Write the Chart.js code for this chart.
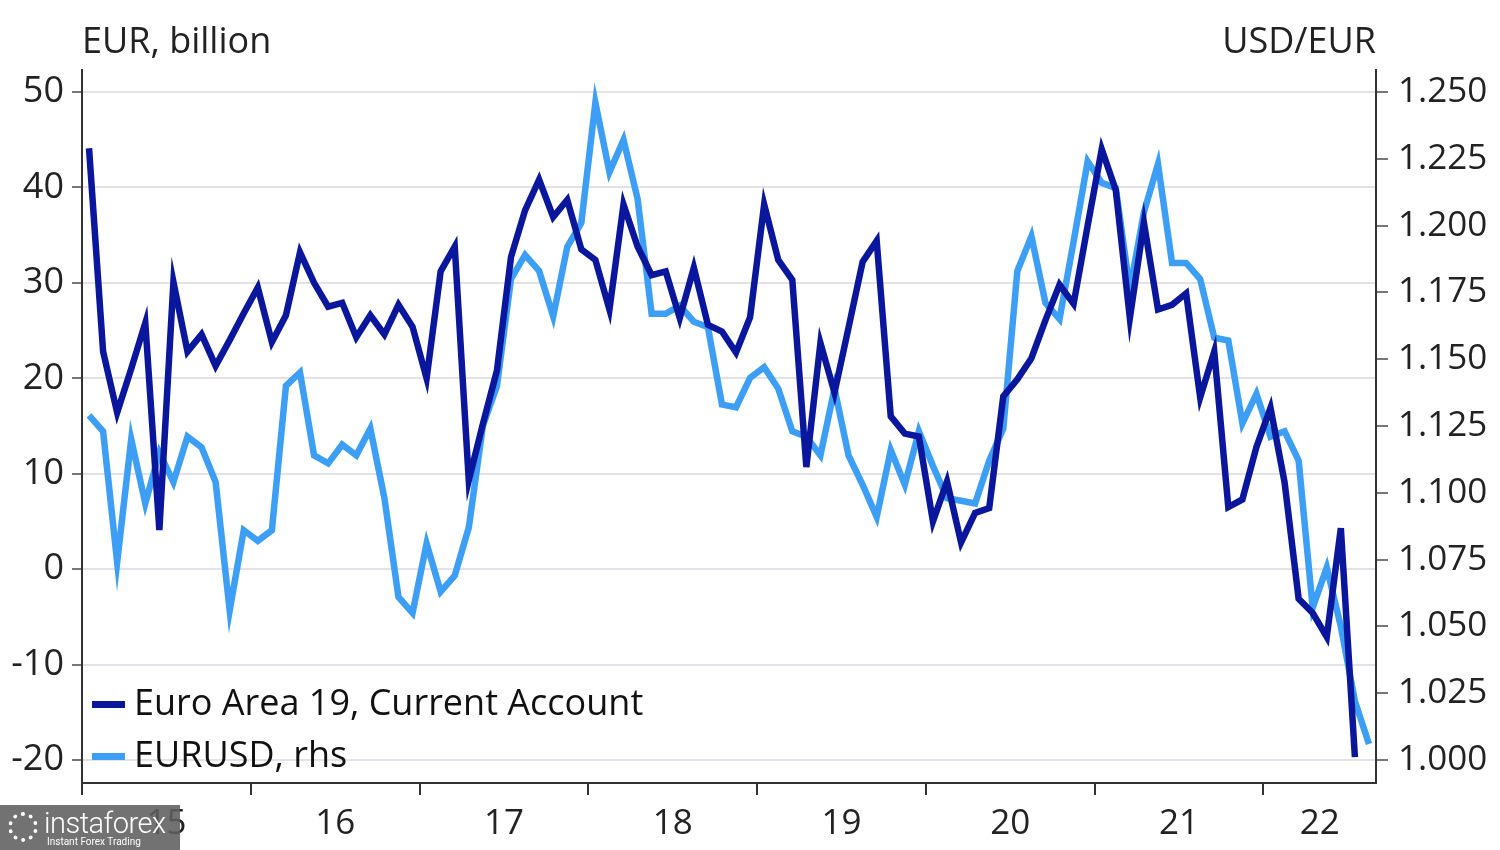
<!DOCTYPE html>
<html>
<head>
<meta charset="utf-8">
<script src="https://cdn.jsdelivr.net/npm/chart.js@4.4.1/dist/chart.umd.min.js"></script>
<style>
  body { margin: 0; background: #fff; }
  #wrap { position: relative; width: 1500px; height: 850px; }
  #logo {
    position: absolute; left: 0; top: 805px; width: 180px; height: 45px;
    background: rgba(95, 95, 95, 0.88); color: #fff; font-family: 'Roboto', sans-serif;
  }
  #logo .big { position: absolute; left: 44px; top: 1px; font-size: 29px; font-weight: 300; letter-spacing: -0.5px; }
  #logo .small { position: absolute; left: 47px; top: 31px; font-size: 10px; }
  #logo .gear { position: absolute; left: 8px; top: 7px; width: 30px; height: 30px; border: 4px dotted #fff; border-radius: 50%; box-sizing: border-box; }
</style>
</head>
<body>
<div id="wrap">
  <canvas id="graphs" width="1500" height="850"></canvas>
  <div id="logo"><div class="gear"></div><span class="big">instaforex</span><span class="small">Instant Forex Trading</span></div>
</div>
<script>
// années affichées sous l'axe
const yearLabels = ['15', '16', '17', '18', '19', '20', '21', '22'];

// compte courant zone euro, mensuel depuis janv. 2015 (EUR mrd)
const currentAccount = [
  44.1, 22.8, 16.4, 21.0, 25.8, 4.1, 30.1, 22.8, 24.6, 21.3, 24.0, 26.8,
  29.5, 23.8, 26.6, 33.2, 30.0, 27.5, 27.9, 24.3, 26.6, 24.6, 27.7, 25.4,
  20.0, 31.2, 33.8, 9.3, 15.2, 20.8, 32.7, 37.6, 40.8, 36.9, 38.7, 33.5,
  32.4, 27.2, 38.2, 33.8, 30.8, 31.2, 26.3, 31.6, 25.6, 24.9, 22.7, 26.4,
  38.2, 32.4, 30.3, 10.7, 23.7, 18.5, 25.3, 32.2, 34.4, 16.0, 14.2, 13.9,
  5.0, 9.2, 2.8, 5.9, 6.4, 18.1, 19.9, 22.1, 26.1, 29.8, 27.8, 36.0,
  44.0, 39.7, 26.3, 36.3, 27.2, 27.7, 28.9, 18.0, 22.8, 6.5, 7.3, 12.8,
  16.9, 9.1, -3.1, -4.6, -7.1, 4.3, -19.7
];

// EURUSD moyenne mensuelle (axe de droite)
const eurusd = [
  1.129, 1.123, 1.074, 1.120, 1.096, 1.115, 1.104, 1.121, 1.117, 1.104, 1.056, 1.086,
  1.082, 1.086, 1.140, 1.145, 1.114, 1.111, 1.118, 1.114, 1.124, 1.098, 1.061, 1.055,
  1.081, 1.063, 1.069, 1.087, 1.125, 1.140, 1.180, 1.189, 1.183, 1.166, 1.192, 1.201,
  1.246, 1.220, 1.232, 1.210, 1.167, 1.167, 1.170, 1.164, 1.162, 1.133, 1.132, 1.143,
  1.147, 1.139, 1.123, 1.121, 1.114, 1.139, 1.114, 1.103, 1.091, 1.116, 1.103, 1.123,
  1.110, 1.098, 1.097, 1.096, 1.112, 1.124, 1.183, 1.196, 1.171, 1.165, 1.194, 1.224,
  1.216, 1.214, 1.176, 1.205, 1.223, 1.186, 1.186, 1.180, 1.158, 1.157, 1.126, 1.137,
  1.121, 1.123, 1.112, 1.057, 1.072, 1.050, 1.022, 1.006
];

const leftTicks = [-20, -10, 0, 10, 20, 30, 40, 50];
const rightTicks = [1.000, 1.025, 1.050, 1.075, 1.100, 1.125, 1.150, 1.175, 1.200, 1.225, 1.250];

const DARK = '#0a179c';
const LIGHT = '#3c9ef4';
const FONT = "'Open Sans', sans-serif";

// position des étiquettes d'année (mois depuis janv. 2015), la dernière au milieu de la partie visible
const yearMarks = [0, 12, 24, 36, 48, 60, 72, 84];
const labelPos = [6, 18, 30, 42, 54, 66, 78, 88];

function toPoints(arr) {
  return arr.map((v, i) => ({ x: i + 0.5, y: v }));
}

const texteEtLegende = {
  id: 'texteEtLegende',
  afterDraw(chart) {
    const ctx = chart.ctx;
    ctx.save();
    ctx.fillStyle = '#222';
    ctx.font = '36px ' + FONT;
    ctx.textBaseline = 'middle';
    ctx.textAlign = 'left';
    ctx.fillText('EUR, billion', 82, 43);
    ctx.textAlign = 'right';
    ctx.fillText('USD/EUR', 1376, 43);

    const items = [
      { label: 'Euro Area 19, Current Account', color: DARK, y: 704 },
      { label: 'EURUSD, rhs', color: LIGHT, y: 756 }
    ];
    ctx.font = '36px ' + FONT;
    ctx.textAlign = 'left';
    items.forEach(it => {
      ctx.fillStyle = it.color;
      ctx.fillRect(92, it.y - 3, 33, 7);
      ctx.fillStyle = '#111';
      ctx.fillText(it.label, 134, it.y + 1);
    });
    ctx.restore();
  }
};

document.addEventListener('DOMContentLoaded', function() {
  var ctx = document.getElementById('graphs').getContext('2d');
  new Chart(ctx, {
    type: 'line',
    data: {
      datasets: [
        {
          label: 'Euro Area 19, Current Account',
          data: toPoints(currentAccount),
          borderColor: DARK,
          borderWidth: 6.5,
          pointRadius: 0,
          tension: 0,
          yAxisID: 'y',
          order: 0
        },
        {
          label: 'EURUSD, rhs',
          data: toPoints(eurusd),
          borderColor: LIGHT,
          borderWidth: 6.5,
          pointRadius: 0,
          tension: 0,
          yAxisID: 'y1',
          order: 1
        }
      ]
    },
    options: {
      responsive: false,
      animation: false,
      layout: { padding: { top: 70, left: 0, right: 0, bottom: 0 } },
      plugins: {
        legend: { display: false },
        tooltip: { enabled: false }
      },
      scales: {
        x: {
          type: 'linear',
          min: 0,
          max: 92,
          afterBuildTicks: scale => {
            scale.ticks = yearMarks.concat(labelPos).sort((a, b) => a - b).map(v => ({ value: v }));
          },
          afterFit: scale => { scale.height = 67; },
          grid: {
            drawOnChartArea: false,
            tickLength: 12,
            lineWidth: 2,
            tickColor: c => (yearMarks.includes(c.tick.value) ? '#333' : 'rgba(0,0,0,0)')
          },
          border: { display: true, color: '#333', width: 2 },
          ticks: {
            autoSkip: false,
            maxRotation: 0,
            padding: 8,
            color: '#222',
            font: { family: FONT, size: 35 },
            callback: v => {
              var k = labelPos.indexOf(v);
              return k >= 0 ? yearLabels[k] : '';
            }
          }
        },
        y: {
          position: 'left',
          min: -22.41,
          max: 52.30,
          afterBuildTicks: scale => { scale.ticks = leftTicks.map(v => ({ value: v })); },
          afterFit: scale => { scale.width = 82; },
          grid: { color: '#e4e1e9', lineWidth: 2, tickLength: 10, tickColor: '#777' },
          border: { display: true, color: '#333', width: 2 },
          ticks: { color: '#222', padding: 8, font: { family: FONT, size: 36 } }
        },
        y1: {
          position: 'right',
          min: 0.9914,
          max: 1.2582,
          afterBuildTicks: scale => { scale.ticks = rightTicks.map(v => ({ value: v })); },
          afterFit: scale => { scale.width = 124; },
          grid: { drawOnChartArea: false, tickLength: 12, lineWidth: 2, tickColor: '#777' },
          border: { display: true, color: '#333', width: 2 },
          ticks: {
            color: '#222',
            padding: 10,
            font: { family: FONT, size: 35 },
            callback: v => v.toFixed(3)
          }
        }
      }
    },
    plugins: [texteEtLegende]
  });
});
</script>
</body>
</html>
